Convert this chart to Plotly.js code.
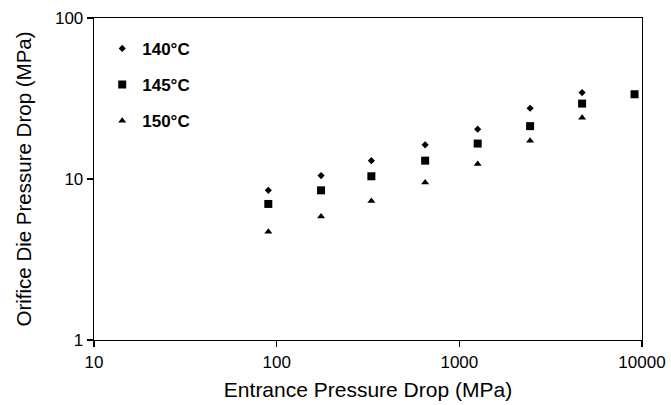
<!DOCTYPE html>
<html><head><meta charset="utf-8">
<script src="https://cdn.plot.ly/plotly-3.0.1.min.js"></script>
<style>html,body{margin:0;padding:0;background:#fff;}#chart{width:671px;height:405px;}</style>
</head><body><div id="chart"></div>
<script>
const entrance = [90, 175, 330, 650, 1260, 2440, 4700, 9100];
const series140 = [8.5, 10.5, 13.0, 16.3, 20.4, 27.5, 34.4];
const series145 = [7.0, 8.5, 10.4, 13.0, 16.6, 21.3, 29.4, 33.6];
const series150 = [4.7, 5.85, 7.3, 9.5, 12.4, 17.3, 24.0];
const names = ['140°C', '145°C', '150°C'];
const xTicks = [10, 100, 1000, 10000];
const xTickText = ['10', '100', '1000', '10000'];
const yTicks = [1, 10, 100];
const yTickText = ['1', '10', '100'];

const font = 'Liberation Sans, Arial, sans-serif';
const traces = [
  {x: entrance.slice(0, series140.length), y: series140, name: names[0], legendgroup: 'a',
   mode: 'markers', type: 'scatter', marker: {symbol: 'diamond', size: 5.5, color: '#000'}},
  {x: entrance.slice(0, series145.length), y: series145, name: names[1], legendgroup: 'b',
   mode: 'markers', type: 'scatter', marker: {symbol: 'square', size: 8, color: '#000'}},
  {x: entrance.slice(0, series150.length), y: series150, name: names[2], legendgroup: 'c',
   mode: 'markers', type: 'scatter', marker: {symbol: 'triangle-up', size: 7, color: '#000'}}
];
const axisCommon = {
  type: 'log', showgrid: false, zeroline: false, showline: true, mirror: true,
  linecolor: '#000', linewidth: 1.3, ticks: 'outside', ticklen: 6, tickwidth: 1.3,
  tickcolor: '#000', tickfont: {family: font, size: 17, color: '#000'}, tickmode: 'array'
};
const layout = {
  width: 671, height: 405,
  margin: {l: 94, r: 29, t: 18, b: 65},
  paper_bgcolor: '#fff', plot_bgcolor: '#fff',
  xaxis: Object.assign({}, axisCommon, {
    range: [1, 4], tickvals: xTicks, ticktext: xTickText,
    title: {text: 'Entrance Pressure Drop (MPa)', font: {family: font, size: 21, color: '#000'}, standoff: 11}
  }),
  yaxis: Object.assign({}, axisCommon, {
    range: [0, 2], tickvals: yTicks, ticktext: yTickText,
    title: {text: 'Orifice Die Pressure Drop (MPa)', font: {family: font, size: 20.5, color: '#000'}, standoff: 17}
  }),
  showlegend: true,
  legend: {
    x: 0.015, y: 0.96, xanchor: 'left', yanchor: 'top',
    bgcolor: 'rgba(0,0,0,0)', traceorder: 'grouped', tracegroupgap: 11,
    font: {family: font, size: 17, color: '#000', weight: 'bold'}
  }
};
Plotly.newPlot('chart', traces, layout, {displayModeBar: false, staticPlot: true});
</script></body></html>
